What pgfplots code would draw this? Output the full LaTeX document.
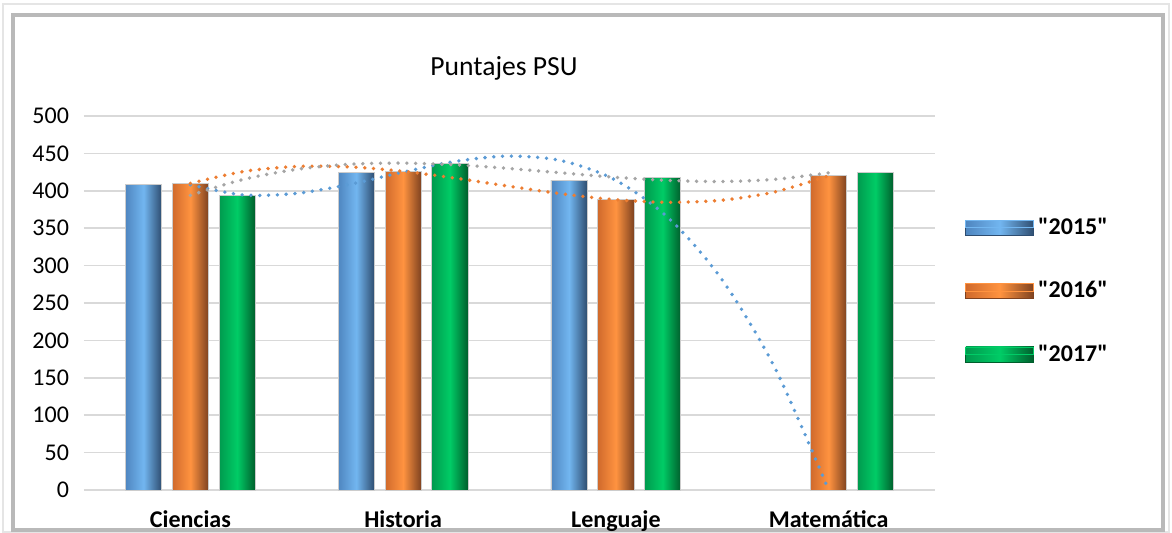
\documentclass[border=0pt]{standalone}
\usepackage{fontspec}
\setmainfont{Carlito}
\newfontfamily\legfont{Carlito}[Ligatures=TeXOff]
\usepackage{pgfplots}
\pgfplotsset{compat=1.18}
\definecolor{bL}{HTML}{4F86C0}
\definecolor{bM}{HTML}{72B6F0}
\definecolor{bR}{HTML}{2E4D70}
\definecolor{oL}{HTML}{D06A2C}
\definecolor{oM}{HTML}{FF9340}
\definecolor{oR}{HTML}{7E4220}
\definecolor{gL}{HTML}{009A4E}
\definecolor{gM}{HTML}{00CC66}
\definecolor{gR}{HTML}{005E2C}
\definecolor{tBlue}{HTML}{5B9BD5}
\definecolor{tOrange}{HTML}{ED7D31}
\definecolor{tGrey}{HTML}{A5A5A5}
\pgfplotsset{
  barB/.style={ybar, /pgf/bar width=0.17, /pgf/bar shift=-0.22, draw=gray!40, line width=0.4pt,
    left color=bL, right color=bR, middle color=bM,
    legend image code/.code={\fill[bR] (0pt,-3.75pt) rectangle (34pt,0pt);\fill[bM] (0pt,0pt) rectangle (34pt,3.75pt);}},
  barO/.style={ybar, /pgf/bar width=0.17, /pgf/bar shift=0, draw=gray!40, line width=0.4pt,
    left color=oL, right color=oR, middle color=oM,
    legend image code/.code={\fill[oR] (0pt,-3.75pt) rectangle (34pt,0pt);\fill[oM] (0pt,0pt) rectangle (34pt,3.75pt);}},
  barG/.style={ybar, /pgf/bar width=0.17, /pgf/bar shift=0.22, draw=gray!40, line width=0.4pt,
    left color=gL, right color=gR, middle color=gM,
    legend image code/.code={\fill[gR] (0pt,-3.75pt) rectangle (34pt,0pt);\fill[gM] (0pt,0pt) rectangle (34pt,3.75pt);}},
  trend/.style={forget plot, smooth, line width=1.9pt, line cap=round, dash pattern=on 0pt off 4.4pt},
}
\begin{document}
\begin{tikzpicture}
\useasboundingbox (0,0) rectangle (586pt,266.5pt);
\fill[white] (0,0) rectangle (586pt,266.5pt);
\draw[gray!20, line width=1.2pt] (1.5pt,0.6pt) rectangle (584.5pt,264.5pt);
\draw[gray!55, line width=2.4pt] (6.5pt,1.5pt) rectangle (581.5pt,259pt);
\node[font=\fontsize{13.8}{16}\selectfont] at (252pt,232.5pt) {Puntajes PSU};
\begin{axis}[
  at={(42pt,21.5pt)}, anchor=south west, scale only axis,
  width=425.5pt, height=187pt,
  xmin=-0.5, xmax=3.5, ymin=0, ymax=500,
  ytick={0,50,...,500},
  xtick={0,1,2,3},
  xticklabels={Ciencias,Historia,Lenguaje,Matemática},
  axis line style={draw=none},
  major tick length=0pt,
  ymajorgrids,
  grid style={color=gray!30, line width=0.8pt},
  /pgf/number format/assume math mode=true,
  yticklabel style={font=\fontsize{12}{14}\selectfont, xshift=-4pt},
  xticklabel style={font=\bfseries\fontsize{12}{14}\selectfont, yshift=-7pt},
  legend style={at={(1,0.532)}, anchor=west, xshift=12pt, draw=none, fill=none,
    font=\legfont\bfseries\fontsize{12}{13}\selectfont, row sep=18pt,
    /tikz/every even column/.append style={column sep=2pt}},
  legend cell align=left,
  clip=false,
]
% 2015, 2016, 2017 (one bar per plot so each bar gets its own shading)
\addplot[barB] coordinates {(0,408)};
\addlegendentry{"2015"}
\addplot[barO] coordinates {(0,410)};
\addlegendentry{"2016"}
\addplot[barG] coordinates {(0,394)};
\addlegendentry{"2017"}
\addplot[barB, forget plot] coordinates {(1,425)};
\addplot[barB, forget plot] coordinates {(2,414)};
\addplot[barO, forget plot] coordinates {(1,426)};
\addplot[barO, forget plot] coordinates {(2,388)};
\addplot[barO, forget plot] coordinates {(3,420)};
\addplot[barG, forget plot] coordinates {(1,437)};
\addplot[barG, forget plot] coordinates {(2,418)};
\addplot[barG, forget plot] coordinates {(3,424)};
% trend lines
\addplot[trend, tBlue]
  coordinates {(0,408) (0.25,394.4) (0.5,396.6) (0.75,408.7) (1,425) (1.25,439.5) (1.5,446.4) (1.75,439.9) (2,414) (2.25,362.9) (2.5,280.8) (2.75,161.8) (3,0)};
\addplot[trend, tOrange]
  coordinates {(0,410) (0.25,425.8) (0.5,432.5) (0.75,431.9) (1,426) (1.25,416.7) (1.5,406) (1.75,395.8) (2,388) (2.25,384.6) (2.5,387.5) (2.75,398.7) (3,420)};
\addplot[trend, tGrey]
  coordinates {(0,394) (0.25,415.3) (0.5,428.7) (0.75,435.5) (1,437) (1.25,434.7) (1.5,429.8) (1.75,423.8) (2,418) (2.25,413.8) (2.5,412.4) (2.75,415.4) (3,424)};
\end{axis}
\end{tikzpicture}
\end{document}
